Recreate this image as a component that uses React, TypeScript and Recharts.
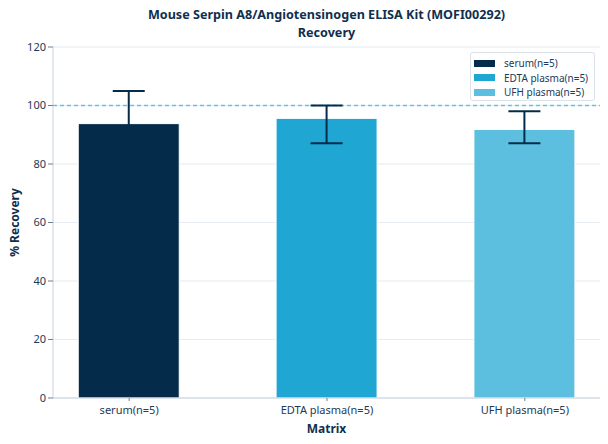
import React from "react";
import {
  BarChart,
  Bar,
  Cell,
  XAxis,
  YAxis,
  CartesianGrid,
  ReferenceLine,
  ErrorBar,
} from "recharts";

const categories = ["serum(n=5)", "EDTA plasma(n=5)", "UFH plasma(n=5)"];
const recovery = [93.8, 95.6, 91.8];
// [below, above] the mean
const errLow = [11.2, 8.5, 4.7];
const errHigh = [11.2, 4.4, 6.2];
const colors = ["#042c4a", "#1fa6d3", "#5cbfdf"];
const yTicks = [0, 20, 40, 60, 80, 100, 120];

const data = categories.map((name, i) => ({
  x: i,
  name,
  value: recovery[i],
  err: [errLow[i], errHigh[i]],
}));

const FONT = "'Noto Sans', 'DejaVu Sans', sans-serif";
const TEXT = "#1c3a5a";

export default function App() {
  return (
    <div
      style={{
        position: "absolute",
        left: 0,
        top: 0,
        width: 608,
        height: 444,
        background: "#fff",
        fontFamily: FONT,
      }}
    >
      <div
        style={{
          position: "absolute",
          left: 53,
          width: 547,
          top: 6,
          textAlign: "center",
          fontSize: 12.6,
          fontWeight: 700,
          lineHeight: "17.5px",
          color: "#102f4e",
        }}
      >
        <div>Mouse Serpin A8/Angiotensinogen ELISA Kit (MOFI00292)</div>
        <div>Recovery</div>
      </div>
      <BarChart
        width={608}
        height={444}
        data={data}
        margin={{ top: 47, right: 8, left: 0, bottom: 0 }}
      >
        <CartesianGrid vertical={false} stroke="#e6ecf1" strokeWidth={1.2} />
        <XAxis
          type="number"
          dataKey="x"
          domain={[-0.385, 2.38]}
          allowDataOverflow
          ticks={[0, 1, 2]}
          tickFormatter={(v) => categories[v] ?? ""}
          height={46}
          tickSize={3}
          stroke="#c6d2dc"
          tick={{ fill: TEXT, fontSize: 11, fontFamily: FONT, dy: 3 }}
          tickLine={{ stroke: "#6c7f91" }}
          label={{
            value: "Matrix",
            position: "insideBottom",
            offset: 11,
            fill: "#102f4e",
            fontSize: 12,
            fontWeight: 700,
            fontFamily: FONT,
          }}
        />
        <YAxis
          domain={[0, 120]}
          ticks={yTicks}
          width={53}
          tickSize={5}
          stroke="#c6d2dc"
          tick={{ fill: TEXT, fontSize: 11, fontFamily: FONT }}
          tickLine={{ stroke: "#6c7f91" }}
          label={(props: any) => {
            const vb = props.viewBox || {};
            const cy = (vb.y ?? 47) + (vb.height ?? 351) / 2;
            return (
              <text
                x={14}
                y={cy}
                transform={`rotate(-90, 14, ${cy})`}
                textAnchor="middle"
                dominantBaseline="central"
                fill="#102f4e"
                fontSize={12}
                fontWeight={700}
                fontFamily={FONT}
              >
                % Recovery
              </text>
            );
          }}
        />
        <ReferenceLine
          y={100}
          stroke="#62c2ea"
          strokeDasharray="4 3"
          strokeWidth={1.3}
        />
        <Bar
          dataKey="value"
          barSize={101}
          stroke="#ffffff"
          strokeWidth={1}
          isAnimationActive={false}
        >
          {data.map((d, i) => (
            <Cell key={d.name} fill={colors[i]} />
          ))}
          <ErrorBar
            dataKey="err"
            width={16}
            stroke="#042c4a"
            strokeWidth={2}
            direction="y"
          />
        </Bar>
      </BarChart>
      <div
        style={{
          position: "absolute",
          left: 470,
          top: 52,
          width: 123,
          height: 47,
          border: "1px solid #dbe2e8",
          borderRadius: 3,
          background: "rgba(255,255,255,0.9)",
          fontSize: 10,
          color: TEXT,
        }}
      >
        {categories.map((c, i) => (
          <div
            key={c}
            style={{
              position: "absolute",
              left: 3,
              top: 4 + i * 14.5,
              height: 12,
              display: "flex",
              alignItems: "center",
              whiteSpace: "nowrap",
            }}
          >
            <span
              style={{
                display: "inline-block",
                width: 21,
                height: 7,
                background: colors[i],
                marginRight: 9,
              }}
            />
            {c}
          </div>
        ))}
      </div>
    </div>
  );
}
